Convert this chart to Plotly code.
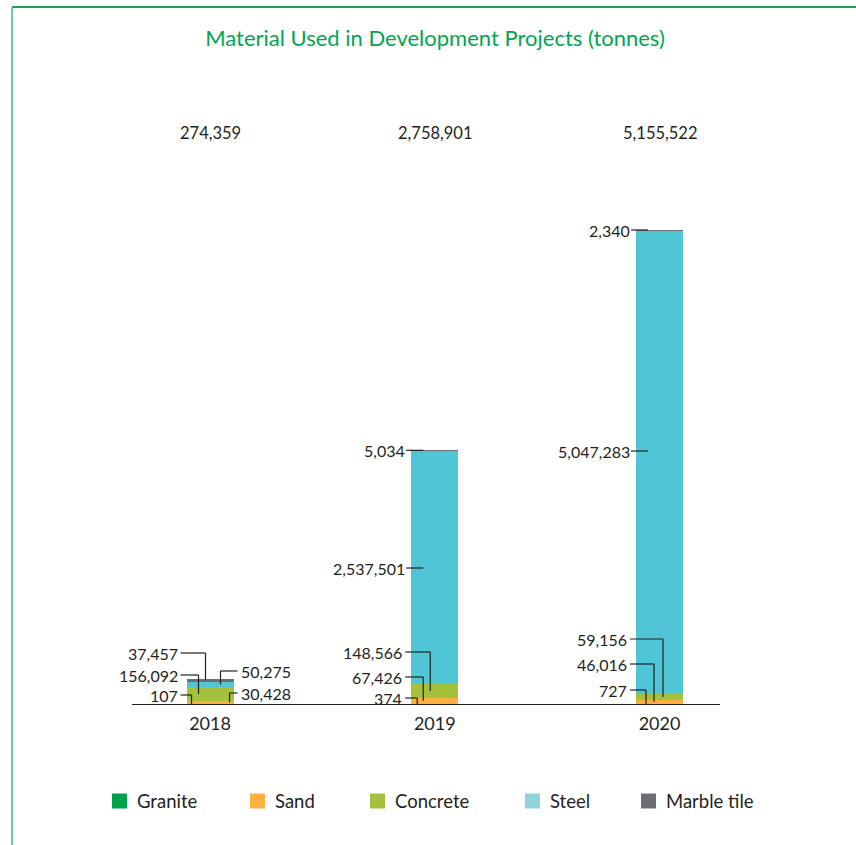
import plotly.graph_objects as go

# ---- data ---------------------------------------------------------------
years = ["2018", "2019", "2020"]
series_names = ["Granite", "Sand", "Concrete", "Steel", "Marble tile"]
granite = [107, 374, 727]
sand = [30428, 67426, 46016]
concrete = [156092, 148566, 59156]
steel = [50275, 2537501, 5047283]
marble_tile = [37457, 5034, 2340]

bar_colors = ["#00a14b", "#fbb040", "#a3c13b", "#50c5d5", "#6d6e71"]
legend_colors = ["#00a14b", "#fbb040", "#a3c13b", "#8fd4da", "#6d6e71"]

series_values = [granite, sand, concrete, steel, marble_tile]
totals = [sum(v[i] for v in series_values) for i in range(len(years))]

# ---- page geometry (pixels) ----------------------------------------------
W, H = 856, 845
ML, MR, MT, MB = 132, 136, 100, 141
PW, PH = W - ML - MR, H - MT - MB
FIRST_BAR_PX = 210          # centre of first bar
SPACING_PX = 224.75         # distance between bar centres
BAR_PX = 47                 # bar width
TALLEST_PX = 474            # height of the tallest stack

X_MIN = (ML - FIRST_BAR_PX) / SPACING_PX
X_MAX = (ML + PW - FIRST_BAR_PX) / SPACING_PX
Y_MAX = max(totals) * PH / TALLEST_PX


def dx(p):
    """horizontal pixel distance -> x data units"""
    return p / SPACING_PX


def dy(p):
    """vertical pixel distance -> y data units"""
    return p * Y_MAX / PH


def paper_x(p):
    return (p - ML) / PW


def paper_y(p):
    return (H - MB - p) / PH


INK = "#231f20"
FONT = "Lato, 'Open Sans', sans-serif"

fig = go.Figure()
for name, vals, col in zip(series_names, series_values, bar_colors):
    fig.add_trace(go.Bar(
        x=list(range(len(years))), y=vals, name=name,
        width=dx(BAR_PX), marker=dict(color=col, line=dict(width=0)),
        showlegend=False,
    ))

# ---- callout labels ------------------------------------------------------
# (year index, series index, kind, side, label height px, elbow offset px)
callouts = [
    (0, 4, "elbow", "L", 51, 19),
    (0, 2, "elbow", "L", 29, 12),
    (0, 0, "elbow", "L", 9, 5),
    (0, 3, "elbow", "R", 33, 13),
    (0, 1, "elbow", "R", 11, 4),
    (1, 2, "elbow", "L", 52, 19),
    (1, 1, "elbow", "L", 27, 12),
    (1, 0, "elbow", "L", 6, 6),
    (1, 3, "tick", "L", 136, 0),
    (1, 4, "tick", "L", None, 0),
    (2, 2, "elbow", "L", 65, 27),
    (2, 1, "elbow", "L", 40, 18),
    (2, 0, "elbow", "L", 14, 10),
    (2, 3, "tick", "L", 253, 0),
    (2, 4, "tick", "L", None, 0),
]

shapes = []
annotations = []
line_style = dict(color=INK, width=1.2)

for yi, si, kind, side, h_px, elbow in callouts:
    value = series_values[si][yi]
    base = sum(series_values[k][yi] for k in range(si))
    target = base + value / 2
    left = yi - dx(BAR_PX) / 2
    right = yi + dx(BAR_PX) / 2
    label_y = totals[yi] if h_px is None else dy(h_px)
    text = f"{value:,}"
    if kind == "tick":
        shapes.append(dict(type="line", xref="x", yref="y",
                           x0=left - dx(5), x1=left + dx(12),
                           y0=label_y, y1=label_y, line=line_style))
        annotations.append(dict(x=left - dx(4), y=label_y, xref="x", yref="y",
                                text=text, showarrow=False,
                                xanchor="right", yanchor="middle"))
    elif side == "L":
        ex = left + dx(elbow)
        shapes.append(dict(type="line", xref="x", yref="y",
                           x0=left - dx(6), x1=ex, y0=label_y, y1=label_y,
                           line=line_style))
        shapes.append(dict(type="line", xref="x", yref="y",
                           x0=ex, x1=ex, y0=label_y, y1=target,
                           line=line_style))
        annotations.append(dict(x=left - dx(7), y=label_y, xref="x", yref="y",
                                text=text, showarrow=False,
                                xanchor="right", yanchor="middle"))
    else:
        ex = right - dx(elbow)
        shapes.append(dict(type="line", xref="x", yref="y",
                           x0=right + dx(4), x1=ex, y0=label_y, y1=label_y,
                           line=line_style))
        shapes.append(dict(type="line", xref="x", yref="y",
                           x0=ex, x1=ex, y0=label_y, y1=target,
                           line=line_style))
        annotations.append(dict(x=right + dx(5), y=label_y, xref="x", yref="y",
                                text=text, showarrow=False,
                                xanchor="left", yanchor="middle"))

# totals above each stack
for i, t in enumerate(totals):
    annotations.append(dict(x=i, y=paper_y(133), xref="x", yref="paper",
                            text=f"{t:,}", showarrow=False,
                            xanchor="center", yanchor="middle",
                            font=dict(size=16.5)))

# ---- legend row --------------------------------------------------------
legend_x_px = [112, 250, 370, 525, 641]
LEG_Y = 801
for name, col, lx in zip(series_names, legend_colors, legend_x_px):
    shapes.append(dict(type="rect", xref="paper", yref="paper",
                       x0=paper_x(lx), x1=paper_x(lx + 15),
                       y0=paper_y(LEG_Y - 7.5), y1=paper_y(LEG_Y + 7.5),
                       fillcolor=col, line=dict(width=0)))
    annotations.append(dict(x=paper_x(lx + 23), y=paper_y(LEG_Y),
                            xref="paper", yref="paper", text=name,
                            showarrow=False, xanchor="left", yanchor="middle",
                            font=dict(size=18.5)))

# ---- page frame ----------------------------------------------------------
shapes.append(dict(type="line", xref="paper", yref="paper",
                   x0=paper_x(12), x1=paper_x(W + 5),
                   y0=paper_y(7), y1=paper_y(7),
                   line=dict(color="#1e9e55", width=2)))
shapes.append(dict(type="line", xref="paper", yref="paper",
                   x0=paper_x(12), x1=paper_x(12),
                   y0=paper_y(7), y1=paper_y(H + 5),
                   line=dict(color="#6fcb97", width=2)))

fig.update_layout(
    width=W, height=H,
    margin=dict(l=ML, r=MR, t=MT, b=MB, pad=0),
    barmode="stack",
    bargap=0,
    plot_bgcolor="white", paper_bgcolor="white",
    font=dict(family=FONT, size=16, color=INK),
    title=dict(text="Material Used in Development Projects (tonnes)",
               font=dict(family=FONT, size=22, color="#00a650"),
               x=paper_x(435), xref="paper", xanchor="center",
               y=1 - 38 / H, yref="container", yanchor="middle"),
    xaxis=dict(range=[X_MIN, X_MAX], tickvals=list(range(len(years))),
               ticktext=years, showgrid=False, zeroline=False,
               showline=True, linecolor=INK, linewidth=1.2,
               ticks="", tickfont=dict(size=18, color=INK),
               ticklabelstandoff=3, fixedrange=True),
    yaxis=dict(range=[0, Y_MAX], visible=False, showgrid=False,
               zeroline=False, fixedrange=True),
    shapes=shapes,
    annotations=annotations,
    showlegend=False,
)

fig.write_html("out.html")
